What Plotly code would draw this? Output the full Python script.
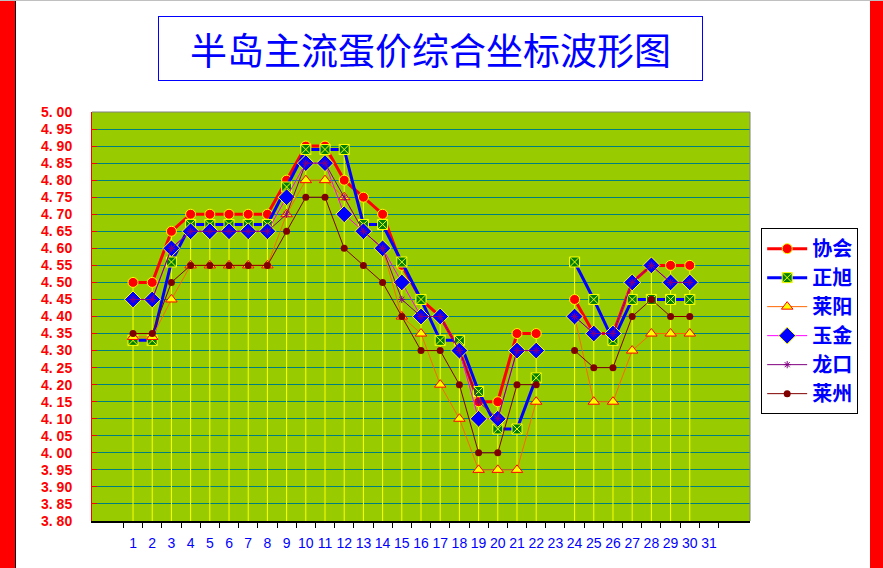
"""
半岛主流蛋价综合坐标波形图
"""
import plotly.graph_objects as go

# 日期 1..31
days = [str(d) for d in range(1, 32)]

xiehui = [4.50, 4.50, 4.65, 4.70, 4.70, 4.70, 4.70, 4.70, 4.80, 4.90, 4.90, 4.80, 4.75, 4.70, 4.55, 4.45,
          4.40, 4.30, 4.15, 4.15, 4.35, 4.35, None, 4.45, 4.35, 4.35, 4.50, 4.55, 4.55, 4.55, None]
zhengxu = [4.33, 4.33, 4.56, 4.67, 4.67, 4.67, 4.67, 4.67, 4.78, 4.89, 4.89, 4.89, 4.67, 4.67, 4.56, 4.45,
           4.33, 4.33, 4.18, 4.07, 4.07, 4.22, None, 4.56, 4.45, 4.33, 4.45, 4.45, 4.45, 4.45, None]
laiyang = [4.34, 4.34, 4.45, 4.55, 4.55, 4.55, 4.55, 4.55, 4.70, 4.80, 4.80, 4.75, 4.65, 4.60, 4.40, 4.35,
           4.20, 4.10, 3.95, 3.95, 3.95, 4.15, None, 4.40, 4.15, 4.15, 4.30, 4.35, 4.35, 4.35, None]
yujin = [4.45, 4.45, 4.60, 4.65, 4.65, 4.65, 4.65, 4.65, 4.75, 4.85, 4.85, 4.70, 4.65, 4.60, 4.50, 4.40,
         4.40, 4.30, 4.10, 4.10, 4.30, 4.30, None, 4.40, 4.35, 4.35, 4.50, 4.55, 4.50, 4.50, None]
longkou = [4.45, 4.45, 4.60, 4.65, 4.65, 4.65, 4.65, 4.65, 4.70, 4.85, 4.85, 4.75, 4.65, 4.60, 4.45, 4.40,
           4.40, 4.30, 4.15, 4.10, 4.30, 4.30, None, 4.40, 4.35, 4.35, 4.50, 4.55, 4.50, 4.50, None]
laizhou = [4.35, 4.35, 4.50, 4.55, 4.55, 4.55, 4.55, 4.55, 4.65, 4.75, 4.75, 4.60, 4.55, 4.50, 4.40, 4.30,
           4.30, 4.20, 4.00, 4.00, 4.20, 4.20, None, 4.30, 4.25, 4.25, 4.40, 4.45, 4.40, 4.40, None]

y_min, y_max, y_step = 3.80, 5.00, 0.05
y_ticks = [round(y_min + i * y_step, 2) for i in range(25)]

series = [
    ("协会", xiehui, dict(color="#FF0000", width=3),
     dict(symbol="circle", size=10, color="#FF0000", line=dict(color="#FFFF00", width=1))),
    ("正旭", zhengxu, dict(color="#0000FF", width=3),
     dict(symbol="square-x", size=10, color="#008000", line=dict(color="#FFFF00", width=1))),
    ("莱阳", laiyang, dict(color="#FF6600", width=1),
     dict(symbol="triangle-up", size=10, color="#FFFF00", line=dict(color="#FF0000", width=1))),
    ("玉金", yujin, dict(color="#FF00FF", width=1),
     dict(symbol="diamond", size=13, color="#0000FF", line=dict(color="#FFFF00", width=1))),
    ("龙口", longkou, dict(color="#800080", width=1),
     dict(symbol="asterisk-open", size=6, color="#800080", line=dict(color="#800080", width=1))),
    ("莱州", laizhou, dict(color="#800000", width=1),
     dict(symbol="circle", size=7, color="#800000", line=dict(color="#800000", width=0))),
]

fig = go.Figure()

# 垂直线（每天最高值到底部）
tops = []
for i in range(len(days)):
    vals = [s[1][i] for s in series if s[1][i] is not None]
    tops.append(max(vals) if vals else None)
fig.add_trace(go.Scatter(
    x=days, y=tops, mode="markers", marker=dict(size=1, opacity=0), showlegend=False, hoverinfo="skip",
    error_y=dict(type="data", symmetric=False, array=[0] * len(days),
                 arrayminus=[(t - y_min) if t is not None else 0 for t in tops],
                 color="#FFFF00", thickness=1, width=0),
))

for name, vals, line, marker in series:
    fig.add_trace(go.Scatter(x=days, y=vals, name=name, mode="lines+markers",
                             line=line, marker=marker, connectgaps=False))

fig.update_layout(
    width=883, height=568,
    margin=dict(l=92, r=133, t=112, b=47),
    paper_bgcolor="white",
    plot_bgcolor="#99CC00",
    showlegend=True,
    legend=dict(x=1.017, xanchor="left", y=0.716, yanchor="top",
                bgcolor="white", bordercolor="black", borderwidth=1,
                font=dict(family="Noto Sans CJK SC", size=20, color="#0000FF", weight=700),
                tracegroupgap=0, itemwidth=40),
    annotations=[dict(
        text="半岛主流蛋价综合坐标波形图", xref="paper", yref="paper",
        x=0.5144, y=1.1553, xanchor="center", yanchor="middle", showarrow=False,
        font=dict(family="Noto Sans CJK SC", size=37, color="#0000FF"),
        bgcolor="white", bordercolor="#0000FF", borderwidth=1, width=541, height=61,
    )],
    shapes=[
        # 左右红条
        dict(type="rect", xref="paper", yref="paper", x0=-92 / 658, x1=-77 / 658, y0=-47 / 409, y1=521 / 409,
             fillcolor="#FF0000", line=dict(width=0)),
        dict(type="line", xref="paper", yref="paper", x0=-76.5 / 658, x1=-76.5 / 658, y0=-47 / 409, y1=521 / 409,
             line=dict(color="black", width=1)),
        dict(type="rect", xref="paper", yref="paper", x0=778 / 658, x1=791 / 658, y0=-47 / 409, y1=521 / 409,
             fillcolor="#FF0000", line=dict(width=0)),
        dict(type="line", xref="paper", yref="paper", x0=-92 / 658, x1=791 / 658, y0=520.5 / 409, y1=520.5 / 409,
             line=dict(color="#C0C0C0", width=1)),
        # 绘图区边框
        dict(type="line", xref="paper", yref="paper", x0=0, x1=1, y0=1, y1=1,
             line=dict(color="#808080", width=1)),
        dict(type="line", xref="paper", yref="paper", x0=1, x1=1, y0=0, y1=1,
             line=dict(color="#808080", width=1)),
    ],
)

fig.update_xaxes(
    type="category", tickson="boundaries", ticks="outside", ticklen=5, tickcolor="black",
    showgrid=False, showline=True, linecolor="black", linewidth=2, tickangle=0, automargin=False,
    tickfont=dict(family="Arial", size=14, color="#0000FF"), ticklabelstandoff=8,
)
fig.update_yaxes(
    range=[y_min, y_max], tickmode="array", tickvals=y_ticks,
    ticktext=[f"{v:.2f}".replace(".", ". ") for v in y_ticks],
    ticks="inside", ticklen=5, tickcolor="#FF0000", automargin=False,
    showgrid=True, gridcolor="#007F7F", gridwidth=1, zeroline=False,
    showline=True, linecolor="#FF0000", linewidth=1,
    tickfont=dict(family="Arial", size=14, color="#FF0000", weight=700), ticklabelstandoff=16,
)

fig.write_html("out.html", config={"displayModeBar": False},
               post_script="document.body.style.margin='0';")
